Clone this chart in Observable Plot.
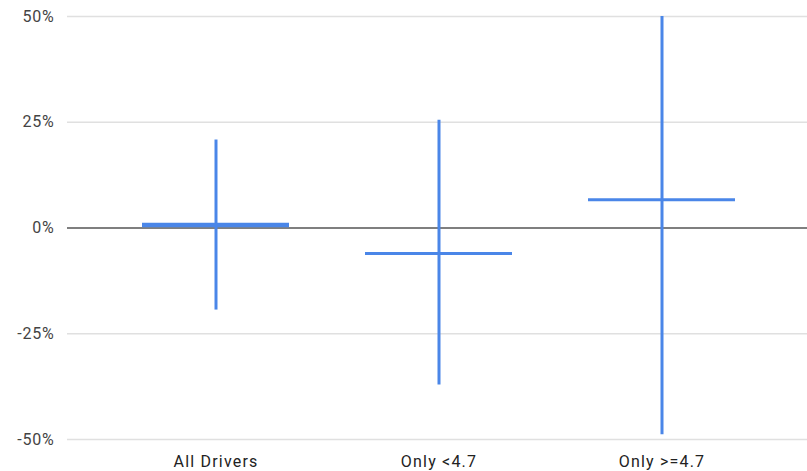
<!DOCTYPE html>
<html>
<head>
<meta charset="utf-8">
<script src="https://cdn.jsdelivr.net/npm/d3@7"></script>
<script src="https://cdn.jsdelivr.net/npm/@observablehq/plot@0.6"></script>
<style>
  html, body { margin: 0; padding: 0; background: #fff; }
  #chart svg { display: block; }
  #chart svg [aria-label="x-axis tick label"] text { letter-spacing: 1.2px; }
  #chart svg [aria-label="y-axis tick label"] text { letter-spacing: 0.8px; }
</style>
</head>
<body>
<div id="chart"></div>
<script>
// Percentage change by driver group: mean (horizontal bar) and min–max range (vertical line)
const groups = ["All Drivers", "Only <4.7", "Only >=4.7"];
const meanChange = [0.7, -6.0, 6.7];
const minChange = [-19.4, -37.1, -48.9];
const maxChange = [20.8, 25.5, 50.0];
const yTicks = [-50, -25, 0, 25, 50];

const rows = groups.map((g, i) => ({
  group: g,
  mean: meanChange[i],
  min: minChange[i],
  max: maxChange[i]
}));

const blue = "#4a86e8";

const chart = Plot.plot({
  width: 807,
  height: 471,
  marginLeft: 67,
  marginRight: 0,
  marginTop: 16,
  marginBottom: 32,
  style: { fontFamily: "Roboto, sans-serif", fontSize: "16px", color: "#444", background: "#fff" },
  x: {
    type: "band",
    domain: groups,
    paddingInner: 0.342,
    paddingOuter: 0,
    insetLeft: 74.5,
    insetRight: 71.5,
    label: null
  },
  y: {
    domain: [-50, 50],
    ticks: yTicks,
    tickFormat: d => d + "%",
    label: null
  },
  marks: [
    Plot.ruleY(yTicks.filter(t => t !== 0), { stroke: "#e0e0e0", strokeWidth: 1.5 }),
    Plot.ruleY([0], { stroke: "#555", strokeWidth: 1.5 }),
    Plot.ruleX(rows, { x: "group", y1: "min", y2: "max", stroke: blue, strokeWidth: 3 }),
    Plot.tickY(rows, {
      x: "group",
      y: "mean",
      stroke: blue,
      strokeWidth: (d, i) => (i === 0 ? 4.5 : 3)
    }),
    Plot.axisY({ ticks: yTicks, tickFormat: d => d + "%", tickSize: 0, tickPadding: 13, fill: "#444", fontSize: 16 }),
    Plot.axisX({ tickSize: 0, tickPadding: 16, fill: "#222", fontSize: 16 })
  ]
});

document.getElementById("chart").append(chart);
</script>
</body>
</html>
